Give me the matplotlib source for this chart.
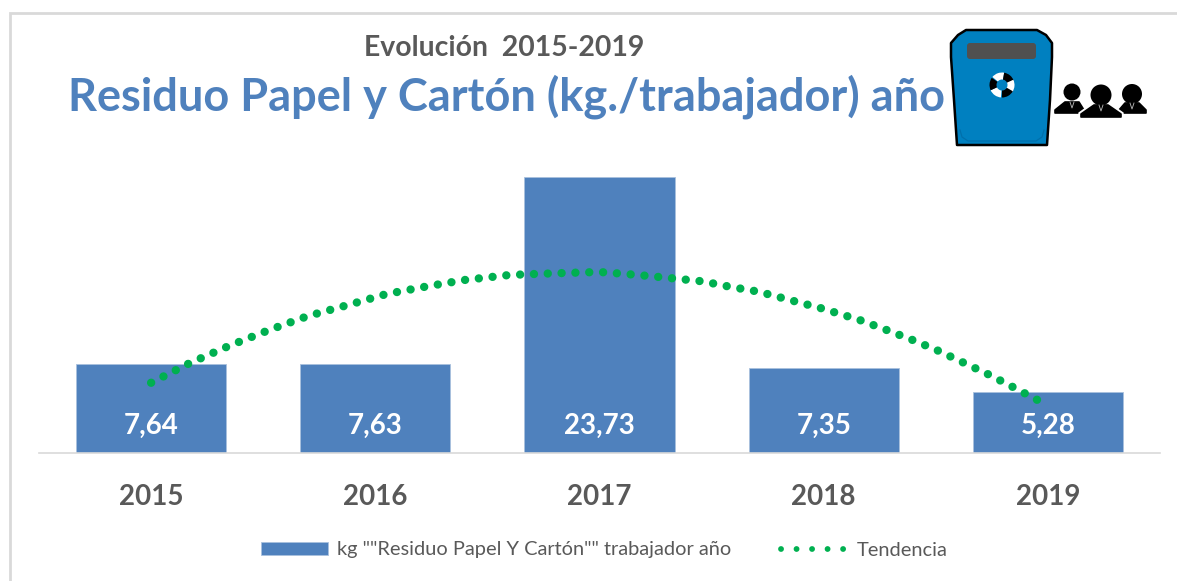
"""
Residuo Papel y Carton per worker, 2015-2019: bars, dotted trend and bin icon
"""

import matplotlib
matplotlib.use('Agg')
import matplotlib.pyplot as plt
import matplotlib.patches as patches
from matplotlib.lines import Line2D

plt.rcParams['font.family'] = ['Lato', 'DejaVu Sans']

# Data
years = [2015, 2016, 2017, 2018, 2019]
values = [7.64, 7.63, 23.73, 7.35, 5.28]
value_labels = ['7,64', '7,63', '23,73', '7,35', '5,28']

trend_years = [2015.00, 2015.17, 2015.35, 2015.53, 2015.70, 2015.89, 2016.05,
               2016.24, 2016.40, 2016.60, 2016.75, 2016.95, 2017.02, 2017.17,
               2017.30, 2017.46, 2017.58, 2017.71, 2017.86, 2017.99, 2018.16,
               2018.28, 2018.40, 2018.51, 2018.62, 2018.74, 2018.85, 2018.97]
trend_values = [6.04, 7.71, 9.23, 10.60, 11.78, 12.79, 13.67,
                14.36, 14.88, 15.31, 15.42, 15.54, 15.54, 15.31,
                15.07, 14.76, 14.30, 13.87, 13.10, 12.44, 11.44,
                10.58, 9.69, 8.80, 7.80, 6.71, 5.61, 4.39]

bar_label = 'kg ""Residuo Papel Y Cartón"" trabajador año'
trend_label = 'Tendencia'
subtitle = 'Evolución  2015-2019'
title = 'Residuo Papel y Cartón (kg./trabajador) año'

BLUE = '#4F81BD'
GREEN = '#00B050'
GRAY = '#595959'
W, H = 1177, 581

fig = plt.figure(figsize=(W / 100, H / 100), dpi=100, facecolor='white')

# Plot area: baseline at y=453 px, 2017 bar top at y=177 px
ax = fig.add_axes([39 / W, 1 - 453 / H, 1121 / W, 302 / H])
ax.bar(years, values, width=0.67, color=BLUE, edgecolor='#A9C1DE',
       linewidth=0.6, zorder=2)
ax.plot(trend_years, trend_values, color=GREEN, lw=6.0,
        linestyle=(0, (0.01, 1.65)), dash_capstyle='round', zorder=3)

for year, label in zip(years, value_labels):
    ax.annotate(label, (year, 0), xytext=(0, 27), textcoords='offset pixels',
                ha='center', va='center', color='white', fontsize=20,
                fontweight='bold', zorder=4)

ax.set_xlim(2014.5, 2019.5)
ax.set_ylim(0, 302 / 11.63)
ax.set_xticks(years)
ax.set_xticklabels([str(y) for y in years], fontsize=20, fontweight='bold',
                   color=GRAY)
ax.tick_params(axis='x', length=0, pad=22)
ax.set_yticks([])
for side in ['top', 'right', 'left']:
    ax.spines[side].set_visible(False)
ax.spines['bottom'].set_color('#D9D9D9')
ax.spines['bottom'].set_linewidth(1.2)
ax.patch.set_alpha(0)

# Legend
handles = [
    patches.Patch(facecolor=BLUE, edgecolor='#A9C1DE', linewidth=0.6),
    Line2D([0], [0], color=GREEN, lw=4.2, linestyle=(0, (0.01, 2.65)),
           dash_capstyle='round'),
]
fig.legend(handles, [bar_label, trend_label], loc='center',
           bbox_to_anchor=(604.5 / W, 1 - 550 / H), ncol=2, frameon=False,
           fontsize=14.4, labelcolor=GRAY, handlelength=3.35, handleheight=0.6,
           handletextpad=0.45, columnspacing=2.45)

# Titles
fig.text(504.5 / W, 1 - 47.5 / H, subtitle, ha='center', va='center',
         fontsize=20.4, fontweight='bold', color=GRAY)
fig.text(506 / W, 1 - 97 / H, title, ha='center', va='center', fontsize=32.5,
         fontweight='bold', color=BLUE)

# Overlay in pixel coordinates for the frame and the icons
ov = fig.add_axes([0, 0, 1, 1], zorder=5)
ov.set_xlim(0, W)
ov.set_ylim(H, 0)
ov.axis('off')
ov.plot([9.5, 9.5, W], [H, 12.5, 12.5], color='#D9D9D9', lw=2.0,
        solid_joinstyle='miter')

# Bin
ov.add_patch(patches.Polygon(
    [(951, 43), (958, 35), (966, 30), (1037, 30), (1046, 35), (1052, 43),
     (1052, 57), (1050, 100), (1047, 145), (957, 145), (954, 100), (951, 57)],
    closed=True, facecolor='#0080C0', edgecolor='black', lw=1.8,
    joinstyle='round'))
ov.add_patch(patches.FancyBboxPatch(
    (969, 45), 65, 12, boxstyle='round,pad=2,rounding_size=3',
    facecolor='#505050', edgecolor='none'))
ov.plot([960, 962, 968, 1036, 1042, 1044], [130, 137, 141, 141, 137, 130],
        color='#0070AC', lw=0.9)

# Recycling mark (y axis is inverted, so angles run clockwise on screen)
for mid, col in [(250, 'white'), (310, 'black'), (5, 'white'),
                 (60, 'black'), (125, 'white'), (185, 'black')]:
    ov.add_patch(patches.Wedge((1002, 85), 12.5, mid - 30, mid + 30, width=7,
                               facecolor=col, edgecolor='none'))

# Workers: head centre, head radius, shoulder extent
people = [(1072, 92, 8.5, 1054, 1085, 101, 113),
          (1132, 94, 10.0, 1118, 1147, 102, 113),
          (1101, 95, 10.5, 1080, 1122, 104, 117)]
for cx, cy, r, x0, x1, y0, y1 in people:
    ov.add_patch(patches.Polygon(
        [(x0 - 1, y1 + 1), (x0 - 1, y1 - 4), (cx - 8, y0 - 1), (cx + 8, y0 - 1),
         (x1 + 1, y1 - 4), (x1 + 1, y1 + 1)],
        closed=True, facecolor='white', edgecolor='white', lw=1.0))
    ov.add_patch(patches.Polygon(
        [(x0 + 1, y1), (x0 + 1, y1 - 3), (cx - 7, y0 + 1), (cx + 7, y0 + 1),
         (x1 - 1, y1 - 3), (x1 - 1, y1)],
        closed=True, facecolor='black', edgecolor='black', lw=1.2,
        joinstyle='round'))
    ov.add_patch(patches.Circle((cx, cy), r, facecolor='black',
                                edgecolor='none'))
    ov.plot([cx - 2, cx, cx + 2], [y0 + 1, y0 + 7, y0 + 1], color='#BBBBBB',
            lw=0.6)

fig.savefig('out.png', dpi=100, facecolor='white')
plt.close(fig)
